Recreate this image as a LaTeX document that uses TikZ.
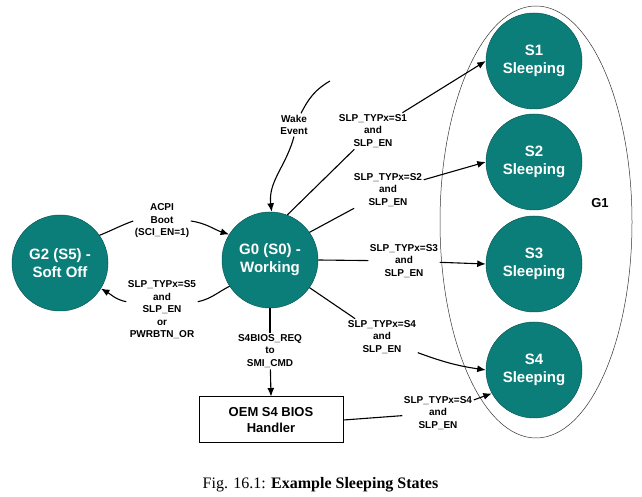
\documentclass[tikz,border=0pt]{standalone}
\usepackage{fontspec}
\setmainfont{Liberation Serif}
\newfontfamily\diagfont{Liberation Sans}
\usetikzlibrary{arrows.meta,calc}
\definecolor{stateteal}{RGB}{12,126,122}
\begin{document}
\begin{tikzpicture}[x=1pt,y=1pt,
  state/.style={circle,fill=stateteal,draw=stateteal!70!black,line width=0.5pt,minimum size=96pt,inner sep=0pt,align=center,text=white,font=\diagfont\bfseries\fontsize{15}{18}\selectfont},
  lbl/.style={align=center,inner sep=1.5pt,font=\diagfont\bfseries\fontsize{10}{12.5}\selectfont},
  conn/.style={line width=1.1pt,draw=black},
  arr/.style={conn,-{Latex[length=8.5pt,width=7pt]}}]
\useasboundingbox (0,0) rectangle (642,497);
% G1 group
\draw[line width=0.5pt,draw=black!80] (536,275) ellipse [x radius=96,y radius=216];
\node[font=\diagfont\bfseries\fontsize{13}{15}\selectfont] (g1) at (600,294) {G1};
% states
\node[state] (G2) at (60,234) {G2 (S5) -\\Soft Off};
\node[state] (G0) at (270,237) {G0 (S0) -\\Working};
\node[state] (S1) at (534,436) {S1\\Sleeping};
\node[state] (S2) at (534,335) {S2\\Sleeping};
\node[state] (S3) at (534,233) {S3\\Sleeping};
\node[state] (S4) at (534,127) {S4\\Sleeping};
\node[draw=black,line width=1pt,minimum width=144pt,minimum height=46pt,align=center,font=\diagfont\bfseries\fontsize{13}{16}\selectfont] (oem) at (271,77) {OEM S4 BIOS\\Handler};
% labels
\node[lbl] (acpi) at (162,276) {ACPI\\Boot\\(SCI\_EN=1)};
\node[lbl] (s5) at (162,187) {SLP\_TYPx=S5\\and\\SLP\_EN\\or\\PWRBTN\_OR};
\node[lbl] (wakel) at (294,372) {Wake\\Event};
\coordinate (wake) at (330,416);
\coordinate (wakeend) at ($(wakel.north)+(7,0)$);
\node[lbl] (l1) at (373,366) {SLP\_TYPx=S1\\and\\SLP\_EN};
\node[lbl] (l2) at (388,307) {SLP\_TYPx=S2\\and\\SLP\_EN};
\node[lbl] (l3) at (404,236) {SLP\_TYPx=S3\\and\\SLP\_EN};
\node[lbl] (l4) at (382,160) {SLP\_TYPx=S4\\and\\SLP\_EN};
\node[lbl] (bios) at (270,146) {S4BIOS\_REQ\\to\\SMI\_CMD};
\node[lbl] (l5) at (438,84) {SLP\_TYPx=S4\\and\\SLP\_EN};
% connectors
\draw[conn] (G2.35) to[out=22,in=200] (acpi.west);
\draw[arr] (acpi.east) to[out=-8,in=162] (G0.148);
\draw[conn] (G0.213) to[out=207,in=12] (s5.13);
\draw[arr] (s5.167) to[out=168,in=330] (G2.328);
\draw[conn] (wake) to[out=210,in=63] (wakeend);
\draw[arr] (wakel.south) to[out=255,in=97] (G0.88);
\draw[conn] (G0.69) -- (l1);
\draw[arr] (l1) -- (S1.west);
\draw[conn] (G0.35) -- (l2);
\draw[arr] (l2) -- (S2.west);
\draw[conn] (G0.east) -- (l3);
\draw[arr] (l3) -- (S3.west);
\draw[conn] (G0.-35) -- (l4);
\draw[arr] (l4) to[bend right=6] (S4.west);
\draw[conn] (G0.south) -- (bios);
\draw[arr] (bios) -- (oem.north);
\draw[conn] (oem.east) -- (l5);
\draw[arr] (l5) -- (S4.209);
% caption
\node[anchor=base,font=\fontsize{16}{19}\selectfont,inner sep=0pt] (cap) at (320.5,8) {Fig. 16.1: \textbf{Example Sleeping States}};
\end{tikzpicture}
\end{document}
